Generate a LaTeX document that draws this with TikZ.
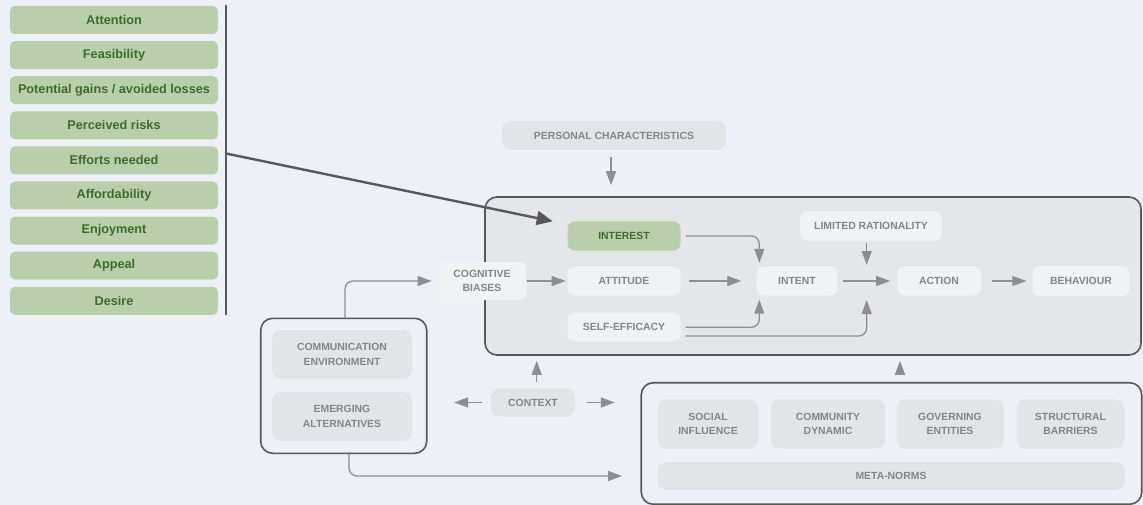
\documentclass[tikz,border=0pt]{standalone}
\usepackage{fontspec}
\usetikzlibrary{arrows.meta}
\newfontfamily\labelfont{Liberation Sans}

\definecolor{pagebg}{HTML}{EDF0F6}
\definecolor{panelfill}{HTML}{E5E6E9}
\definecolor{lightfill}{HTML}{F1F2F4}
\definecolor{darkfill}{HTML}{E3E4E7}
\definecolor{greenfill}{HTML}{B9CFAB}
\definecolor{greentext}{HTML}{3D6B2E}
\definecolor{greytext}{HTML}{858587}
\definecolor{edge}{HTML}{58585B}
\definecolor{arrowgrey}{HTML}{8E8E90}

\tikzset{
  every node/.style={inner sep=0pt, align=center},
  factor/.style={rounded corners=5pt, fill=greenfill, text=greentext,
    font=\labelfont\fontsize{12.7}{14}\selectfont\bfseries,
    minimum width=208pt, minimum height=28pt},
  capsfont/.style={font=\labelfont\fontsize{10.4}{14.5}\selectfont\bfseries},
  lightbox/.style={capsfont, rounded corners=7pt, fill=lightfill, text=greytext},
  darkbox/.style={capsfont, rounded corners=9pt, fill=darkfill, text=greytext},
  greenbox/.style={capsfont, rounded corners=7pt, fill=greenfill, text=greentext},
  panel/.style={draw=edge, line width=1.6pt, rounded corners=12pt},
  flow/.style={draw=arrowgrey, line width=1.3pt,
    -{Triangle[length=14pt,width=10pt]}},
  bold arrow/.style={draw=edge, line width=2.4pt,
    -{Triangle[length=16pt,width=14pt]}}
}

\begin{document}
\begin{tikzpicture}[x=1pt,y=-1pt]
  \useasboundingbox[fill=pagebg] (0,0) rectangle (1143,505);

  % list of decision factors
  \foreach \name/\txt [count=\i from 0] in {
      f1/Attention, f2/Feasibility, f3/{Potential gains / avoided losses},
      f4/Perceived risks, f5/Efforts needed, f6/Affordability,
      f7/Enjoyment, f8/Appeal, f9/Desire}
    \node[factor] (\name) at (114, 20+35.1*\i) {\txt};

  % bracket bar gathering the factors
  \coordinate (bartop) at (226,5);
  \coordinate (barbot) at (226,315);
  \coordinate (barmid) at (226,153.5);
  \draw[edge, line width=2pt] (bartop) -- (barbot);

  % panels
  \node[panel, fill=panelfill, minimum width=656pt, minimum height=158pt] (core) at (813,276) {};
  \node[panel, minimum width=166pt, minimum height=135pt] (commbox) at (343.7,385.8) {};
  \node[panel, minimum width=500.5pt, minimum height=121.5pt] (society) at (891.5,443.5) {};

  % nodes
  \node[darkbox, minimum width=224pt, minimum height=29pt] (personal) at (614,135.5) {PERSONAL CHARACTERISTICS};
  \node[lightbox, minimum width=89pt, minimum height=38pt] (cog) at (482,281) {COGNITIVE\\BIASES};
  \node[greenbox, minimum width=113pt, minimum height=29pt] (interest) at (624,236) {INTEREST};
  \node[lightbox, minimum width=113pt, minimum height=29pt] (attitude) at (624,281) {ATTITUDE};
  \node[lightbox, minimum width=113pt, minimum height=29pt] (selfeff) at (624,327) {SELF-EFFICACY};
  \node[lightbox, minimum width=81pt, minimum height=29pt] (intent) at (797,281) {INTENT};
  \node[lightbox, minimum width=142pt, minimum height=29pt] (limited) at (871,226) {LIMITED RATIONALITY};
  \node[lightbox, minimum width=84pt, minimum height=29pt] (action) at (939,281) {ACTION};
  \node[lightbox, minimum width=97pt, minimum height=30pt] (behaviour) at (1081,281) {BEHAVIOUR};

  \node[darkbox, minimum width=140pt, minimum height=49pt] (commenv) at (342,354.5) {COMMUNICATION\\ENVIRONMENT};
  \node[darkbox, minimum width=140pt, minimum height=49pt] (emerging) at (342,416.3) {EMERGING\\ALTERNATIVES};
  \node[darkbox, minimum width=84pt, minimum height=28pt] (context) at (533,402.5) {CONTEXT};

  \node[darkbox, minimum width=101pt, minimum height=49pt] (social) at (708,424) {SOCIAL\\INFLUENCE};
  \node[darkbox, minimum width=114pt, minimum height=49pt] (community) at (828,424) {COMMUNITY\\DYNAMIC};
  \node[darkbox, minimum width=107pt, minimum height=49pt] (governing) at (950,424) {GOVERNING\\ENTITIES};
  \node[darkbox, minimum width=108pt, minimum height=49pt] (structural) at (1070.5,424) {STRUCTURAL\\BARRIERS};
  \node[darkbox, minimum width=467pt, minimum height=28pt] (meta) at (891,476) {META-NORMS};

  % junction on the intent-to-action path
  \coordinate (jn) at (866.7,281);

  % factors feed interest
  \draw[bold arrow] (barmid) -- ([xshift=-14.6pt]interest.north west);

  % flows
  \draw[flow] ([xshift=-3pt,yshift=-7pt]personal.south) -- ([xshift=-3pt,yshift=11pt]personal.south |- core.north);
  \draw[flow] ([xshift=1.3pt]commbox.north) [rounded corners=8pt] |- ([xshift=-5.6pt]cog.west);
  \draw[flow] (cog.east) -- ([xshift=-1.6pt]attitude.west);
  \draw[flow] ([xshift=8pt]attitude.east) -- ([xshift=-15pt]intent.west);
  \draw[flow] ([xshift=5pt]interest.east) [rounded corners=8pt] -| ([xshift=3pt,yshift=3.5pt]intent.north west);
  \draw[flow] ([xshift=5pt,yshift=-0.3pt]selfeff.east) [rounded corners=8pt] -| ([xshift=3pt,yshift=-4pt]intent.south west);
  \draw[flow] ([xshift=5pt,yshift=-9pt]selfeff.east) [rounded corners=8pt] -| ([yshift=-19pt]jn);
  \draw[flow] ([xshift=5pt]intent.east) -- ([xshift=-6.7pt]action.west);
  \draw[flow] ([yshift=-2.7pt]limited.south -| jn) -- ([yshift=16pt]jn);
  \draw[flow] ([xshift=11pt]action.east) -- ([xshift=-6pt]behaviour.west);

  \draw[flow] ([xshift=3.7pt,yshift=6.6pt]context.north) -- ([xshift=3.7pt,yshift=-5pt]context.north |- core.south);
  \draw[flow] ([xshift=-9.3pt]context.west) -- ([xshift=26.6pt]commbox.east |- context.west);
  \draw[flow] ([xshift=12pt]context.east) -- ([xshift=-25.7pt]society.west |- context.east);
  \draw[flow] ([xshift=8.5pt,yshift=6.5pt]society.north) -- ([xshift=8.5pt,yshift=-5pt]society.north |- core.south);
  \draw[flow] ([xshift=5.3pt]commbox.south) [rounded corners=8pt] |- ([xshift=-18.4pt]society.west |- meta.west);
\end{tikzpicture}
\end{document}
